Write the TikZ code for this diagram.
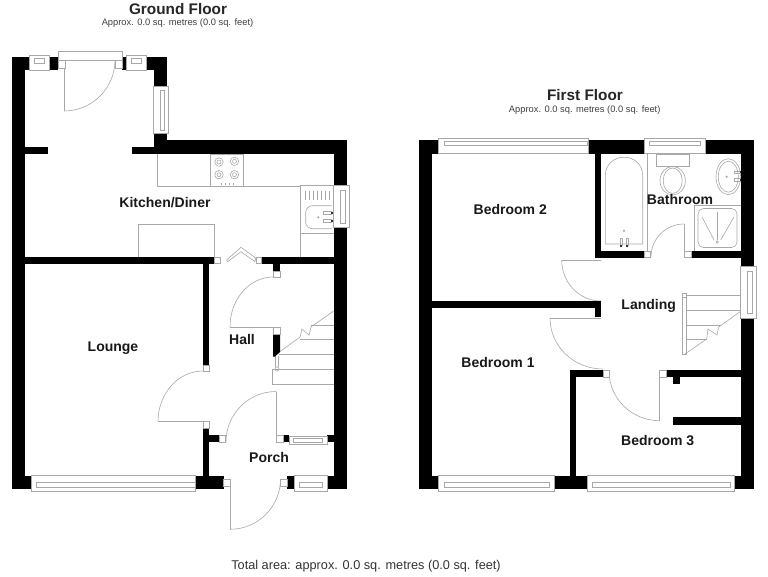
\documentclass[tikz,border=0pt]{standalone}
\usepackage{fontspec}
\setmainfont{Liberation Sans}
\definecolor{fix}{gray}{0.66}
\tikzset{
  x=0.75pt,y=-0.75pt,
  fixture/.style={draw=fix,line width=0.45pt},
  jamb/.style={draw=fix,fill=white,line width=0.45pt},
  room/.style={font=\fontsize{10.5}{12}\selectfont\bfseries,inner sep=0pt,text=black!90},
  floortitle/.style={font=\fontsize{11.5}{13}\selectfont\bfseries,inner sep=0pt,text=black!85},
  floorsub/.style={font=\fontsize{7}{8}\selectfont,inner sep=0pt,text=black!75},
  totalarea/.style={font=\fontsize{9.55}{11}\selectfont,inner sep=0pt,text=black!80}
}
\newcommand{\wallbox}[4]{\fill[black] (#1,#2) rectangle (#3,#4);}
\newcommand{\jambbox}[4]{\draw[jamb] (#1,#2) rectangle (#3,#4);}
\newcommand{\winbox}[8]{\draw[jamb] (#1,#2) rectangle (#3,#4); \draw[fixture] (#5,#6) rectangle (#7,#8);}
\newcommand{\hgline}[3]{\draw[fixture] (#1,#3) -- (#2,#3);}
\newcommand{\qarc}[6]{\draw[fixture] (#1,#2) .. controls ({#1+.5523*(#3-#5)},{#2+.5523*(#4-#6)}) and ({#3+.5523*(#1-#5)},{#4+.5523*(#2-#6)}) .. (#3,#4);}
\begin{document}
\begin{tikzpicture}
\useasboundingbox (0,0) rectangle (768,576);
\fill[white] (0,0) rectangle (768,576);

% ---------- GROUND FLOOR fixtures
\draw[fixture] (157,154) -- (157,186.5) -- (300,186.5);
\draw[fixture] (210.3,154) rectangle (243.7,186.5);
\foreach \cx/\cy in {219/162,234.5/161.3,219/174.7,234.5/174.7}{
  \draw[fixture] (\cx,\cy) circle (4.2); \draw[fixture] (\cx,\cy) circle (2);}
\foreach \dx in {221,225.2,229.4,233.6}{\draw[fixture] (\dx,183.4) -- (\dx,185);}
\draw[fixture] (300.3,185.7) rectangle (334,257);
\draw[fixture] (300.3,233.3) -- (334,233.3);
\foreach \dx in {305.5,309.5,313.5,317.5,321.5,325.5,329.5}{\draw[fixture] (\dx,190.7) -- (\dx,200);}
\draw[fixture,rounded corners=5] (331.7,205.7) -- (305.7,205.7) -- (305.7,228.7) -- (331.7,228.7);
\draw[fixture] (318.3,217.3) circle (0.8);
\draw[fixture] (323.5,211.5) rectangle (331.5,214);
\draw[fixture] (323.5,219.5) rectangle (331.5,222);
\fill[black!80] (331,212) rectangle (333,214);
\fill[black!80] (331,220) rectangle (333,222);
\draw[fixture] (138.5,257) -- (138.5,224) -- (214,224) -- (214,257);
\draw[fixture] (226.7,260) -- (241,247.3) -- (255.7,258) -- (255,261.7) -- (241,251.7) -- (227.7,261.7) -- cycle;

% doors
\draw[fixture] (64,60) -- (64,111); \qarc{64}{111}{115}{60}{64}{60}
\draw[fixture] (158,421.5) -- (203,421.5); \qarc{203}{371}{158}{421.5}{203}{421.5}
\draw[fixture] (230,327) -- (273,327); \qarc{273}{277}{230}{327}{273}{327}
\draw[fixture] (276,391.5) -- (276,442); \qarc{226}{442}{276}{391.5}{276}{442}
\draw[fixture] (230,487) -- (230,529.3); \qarc{230}{529.3}{280.5}{479}{230}{479}

% hall stairs
\draw[fixture] (278,353) -- (300,337) -- (302,329) -- (309,335) -- (311,327) -- (333.5,311);
\hgline{311}{333.5}{325}
\hgline{300}{333.5}{339}
\hgline{279}{333.5}{354}
\hgline{272}{333.5}{369}
\hgline{272}{333.5}{384}
\draw[fixture] (272,369) -- (272,384);
\draw[fixture] (275,356) -- (275,367);
\draw[fixture] (278.5,356) -- (278.5,367);

% ground floor walls
\wallbox{12}{57}{25}{489}
\wallbox{12}{57}{29}{70}
\wallbox{49}{57}{58}{70}
\wallbox{122}{57}{126}{70}
\wallbox{147}{57}{167}{70}
\wallbox{154}{70}{167}{87}
\wallbox{154}{133.5}{167}{154}
\wallbox{154}{140}{347}{154}
\wallbox{132}{147}{157}{154}
\wallbox{25}{147}{48}{154}
\wallbox{334}{140}{347}{185.7}
\wallbox{334}{227.5}{347}{489}
\wallbox{25}{257}{214}{263.5}
\wallbox{261}{257}{334}{263.5}
\wallbox{273}{263}{280}{271}
\wallbox{203}{263}{209.3}{365}
\wallbox{203}{428}{209.3}{476}
\wallbox{203}{435}{219}{442}
\wallbox{283}{435}{289}{442}
\wallbox{327}{435}{334}{442}
\wallbox{12}{476}{31}{489}
\wallbox{195.5}{476}{223.5}{489}
\wallbox{287}{476}{294}{489}
\wallbox{327}{476}{347}{489}
\fill[black] (273,334) -- (280,334) -- (280,352) -- (275,356.5) -- (273,356.5) -- cycle;

% ground floor jambs + windows
\jambbox{214}{257}{220}{263.5}
\jambbox{256}{257}{261}{263.5}
\jambbox{273.3}{271}{280}{277.5}
\jambbox{273.3}{327}{280}{334}
\draw[fixture] (277,369) circle (2);
\jambbox{203}{365}{209.3}{371.5}
\jambbox{203}{421.5}{209.3}{428}
\jambbox{219}{435}{225.5}{442}
\jambbox{276}{435}{283}{442}
\jambbox{223.7}{479}{230.3}{486.5}
\jambbox{280.7}{479}{287}{486.5}
\jambbox{58}{51}{122}{60}
\jambbox{58}{60}{65}{68}
\jambbox{115}{60}{122}{68}
\winbox{29}{55}{49}{70}{34.7}{58}{44}{63}
\winbox{126.7}{55}{146.7}{70}{131.7}{58}{141.7}{63}
\winbox{153.7}{86.7}{168.7}{133.5}{160}{90}{164.7}{130}
\winbox{333.7}{185.7}{349}{227.5}{340}{190}{345}{223}
\winbox{289}{436}{327}{444}{293}{438.3}{322}{442.6}
\winbox{31.5}{475.5}{195.5}{491.5}{36}{482}{195}{487}
\winbox{294}{475.7}{327}{491}{299}{482.5}{322}{487}

% ---------- FIRST FLOOR fixtures
\draw[fixture] (647.4,154) -- (647.4,251);
\draw[fixture] (605.3,244) -- (605.3,176) .. controls (605.3,151) and (642.7,151) .. (642.7,176) -- (642.7,244) -- cycle;
\draw[fixture] (624,230.7) circle (1);
\draw[fixture] (620,238.5) rectangle (622,245.5);
\draw[fixture] (626,238.5) rectangle (628,245.5);
\fill[black!80] (620,244.5) rectangle (622,246.5);
\fill[black!80] (626,244.5) rectangle (628,246.5);
\draw[fixture] (656,154) rectangle (689.3,166);
\draw[fixture] (672.7,180.7) ellipse (12.7 and 14.3);
\draw[fixture] (672.7,180.7) ellipse (9.5 and 12.7);
\draw[fixture] (728.3,176.7) ellipse (12.3 and 18);
\draw[fixture] (728.3,176.7) ellipse (10 and 15.5);
\draw[fixture] (726.7,176.7) circle (0.8);
\draw[fixture] (734.5,171) rectangle (740.5,173.5);
\draw[fixture] (734.5,178.5) rectangle (740.5,181);
\fill[black!80] (739.5,171) rectangle (741,173);
\fill[black!80] (739.5,178.5) rectangle (741,180.5);
\draw[fixture] (694.3,251) -- (694.3,205) -- (741,205);
\draw[fixture,rounded corners=4] (698,208.5) rectangle (737,247.5);
\draw[fixture] (717.3,212) -- (717.3,240);
\draw[fixture] (702,217) -- (714,240);
\draw[fixture] (734,217) -- (720.7,240);
\draw[fixture] (717.3,242) circle (1.2);

% first floor doors
\draw[fixture] (684,224) -- (684,251); \qarc{651}{257}{684}{224}{684}{257}
\draw[fixture] (561.7,260) -- (601,260); \qarc{561.7}{260}{601}{301}{601}{260}
\draw[fixture] (550,318) -- (601,318); \qarc{550}{318}{603}{369}{603}{318}
\draw[fixture] (659.7,377) -- (659.7,420.7); \qarc{609}{371}{659.7}{420.7}{659.7}{371}

% landing stairs
\draw[fixture] (685,354) -- (706.7,339) -- (708,329) -- (717,335) -- (718.7,327) -- (741,311);
\draw[fixture] (682.3,297) rectangle (686,354);
\hgline{686}{741}{295}
\hgline{686}{741}{310}
\hgline{686}{721}{325}
\hgline{686}{707}{339}

% first floor walls
\wallbox{419}{140}{432}{489}
\wallbox{419}{140}{438.5}{154}
\wallbox{588}{140}{644.3}{154}
\wallbox{705.3}{140}{754}{154}
\wallbox{741}{140}{754}{267}
\wallbox{741}{318}{754}{489}
\wallbox{595}{154}{601}{257.5}
\wallbox{595}{251}{644}{257.5}
\wallbox{691}{251}{741}{257.5}
\wallbox{432}{300.5}{601}{308}
\wallbox{595}{300.5}{601}{317}
\wallbox{569.5}{370}{603}{377}
\wallbox{569.5}{370}{576}{489}
\wallbox{666}{370}{741}{377}
\wallbox{672.7}{377}{679.5}{383.5}
\wallbox{672.7}{417}{741}{424.5}
\wallbox{419}{476}{438.7}{489}
\wallbox{554}{476}{587.7}{489}
\wallbox{734.3}{476}{754}{489}

% first floor jambs + windows
\jambbox{644}{251}{650.5}{257.5}
\jambbox{684}{251}{691}{257.5}
\jambbox{603}{370}{609.3}{377}
\jambbox{659.7}{370}{666}{377}
\fill[white] (682.3,293.2) rectangle (686.2,297.2);
\draw[fixture] (682.3,293.2) rectangle (686.2,297.2);
\winbox{438.7}{138.7}{588}{153.3}{444}{141.7}{587}{145.7}
\winbox{644.3}{138.7}{705.3}{153.3}{649}{141.7}{700.7}{145.7}
\winbox{740.7}{266.7}{756.5}{318}{747.7}{271.7}{752.7}{313}
\winbox{438.7}{475.7}{554}{491}{444}{482}{549}{487}
\winbox{587.7}{475.7}{734.3}{491}{592.7}{482}{730}{487}

% ---------- TEXT
\node[floortitle] (gftitle) at (178,9) {Ground Floor};
\node[floorsub] (gfsub) at (177.5,23) {Approx. 0.0 sq. metres (0.0 sq. feet)};
\node[floortitle] (fftitle) at (585,95) {First Floor};
\node[floorsub] (ffsub) at (584.7,110) {Approx. 0.0 sq. metres (0.0 sq. feet)};
\node[room] (kitchen) at (165,202.5) {Kitchen/Diner};
\node[room] (lounge) at (113,348.5) {Lounge};
\node[room] (hall) at (242,339) {Hall};
\node[room] (porch) at (269,457.5) {Porch};
\node[room] (bed2) at (510.3,209.5) {Bedroom 2};
\node[room] (bath) at (680,199) {Bathroom};
\node[room] (landing) at (648.7,306) {Landing};
\node[room] (bed1) at (498,362.5) {Bedroom 1};
\node[room] (bed3) at (657.7,440.5) {Bedroom 3};
\node[totalarea] (total) at (366,566) {Total area: approx. 0.0 sq. metres (0.0 sq. feet)};
\end{tikzpicture}
\end{document}
